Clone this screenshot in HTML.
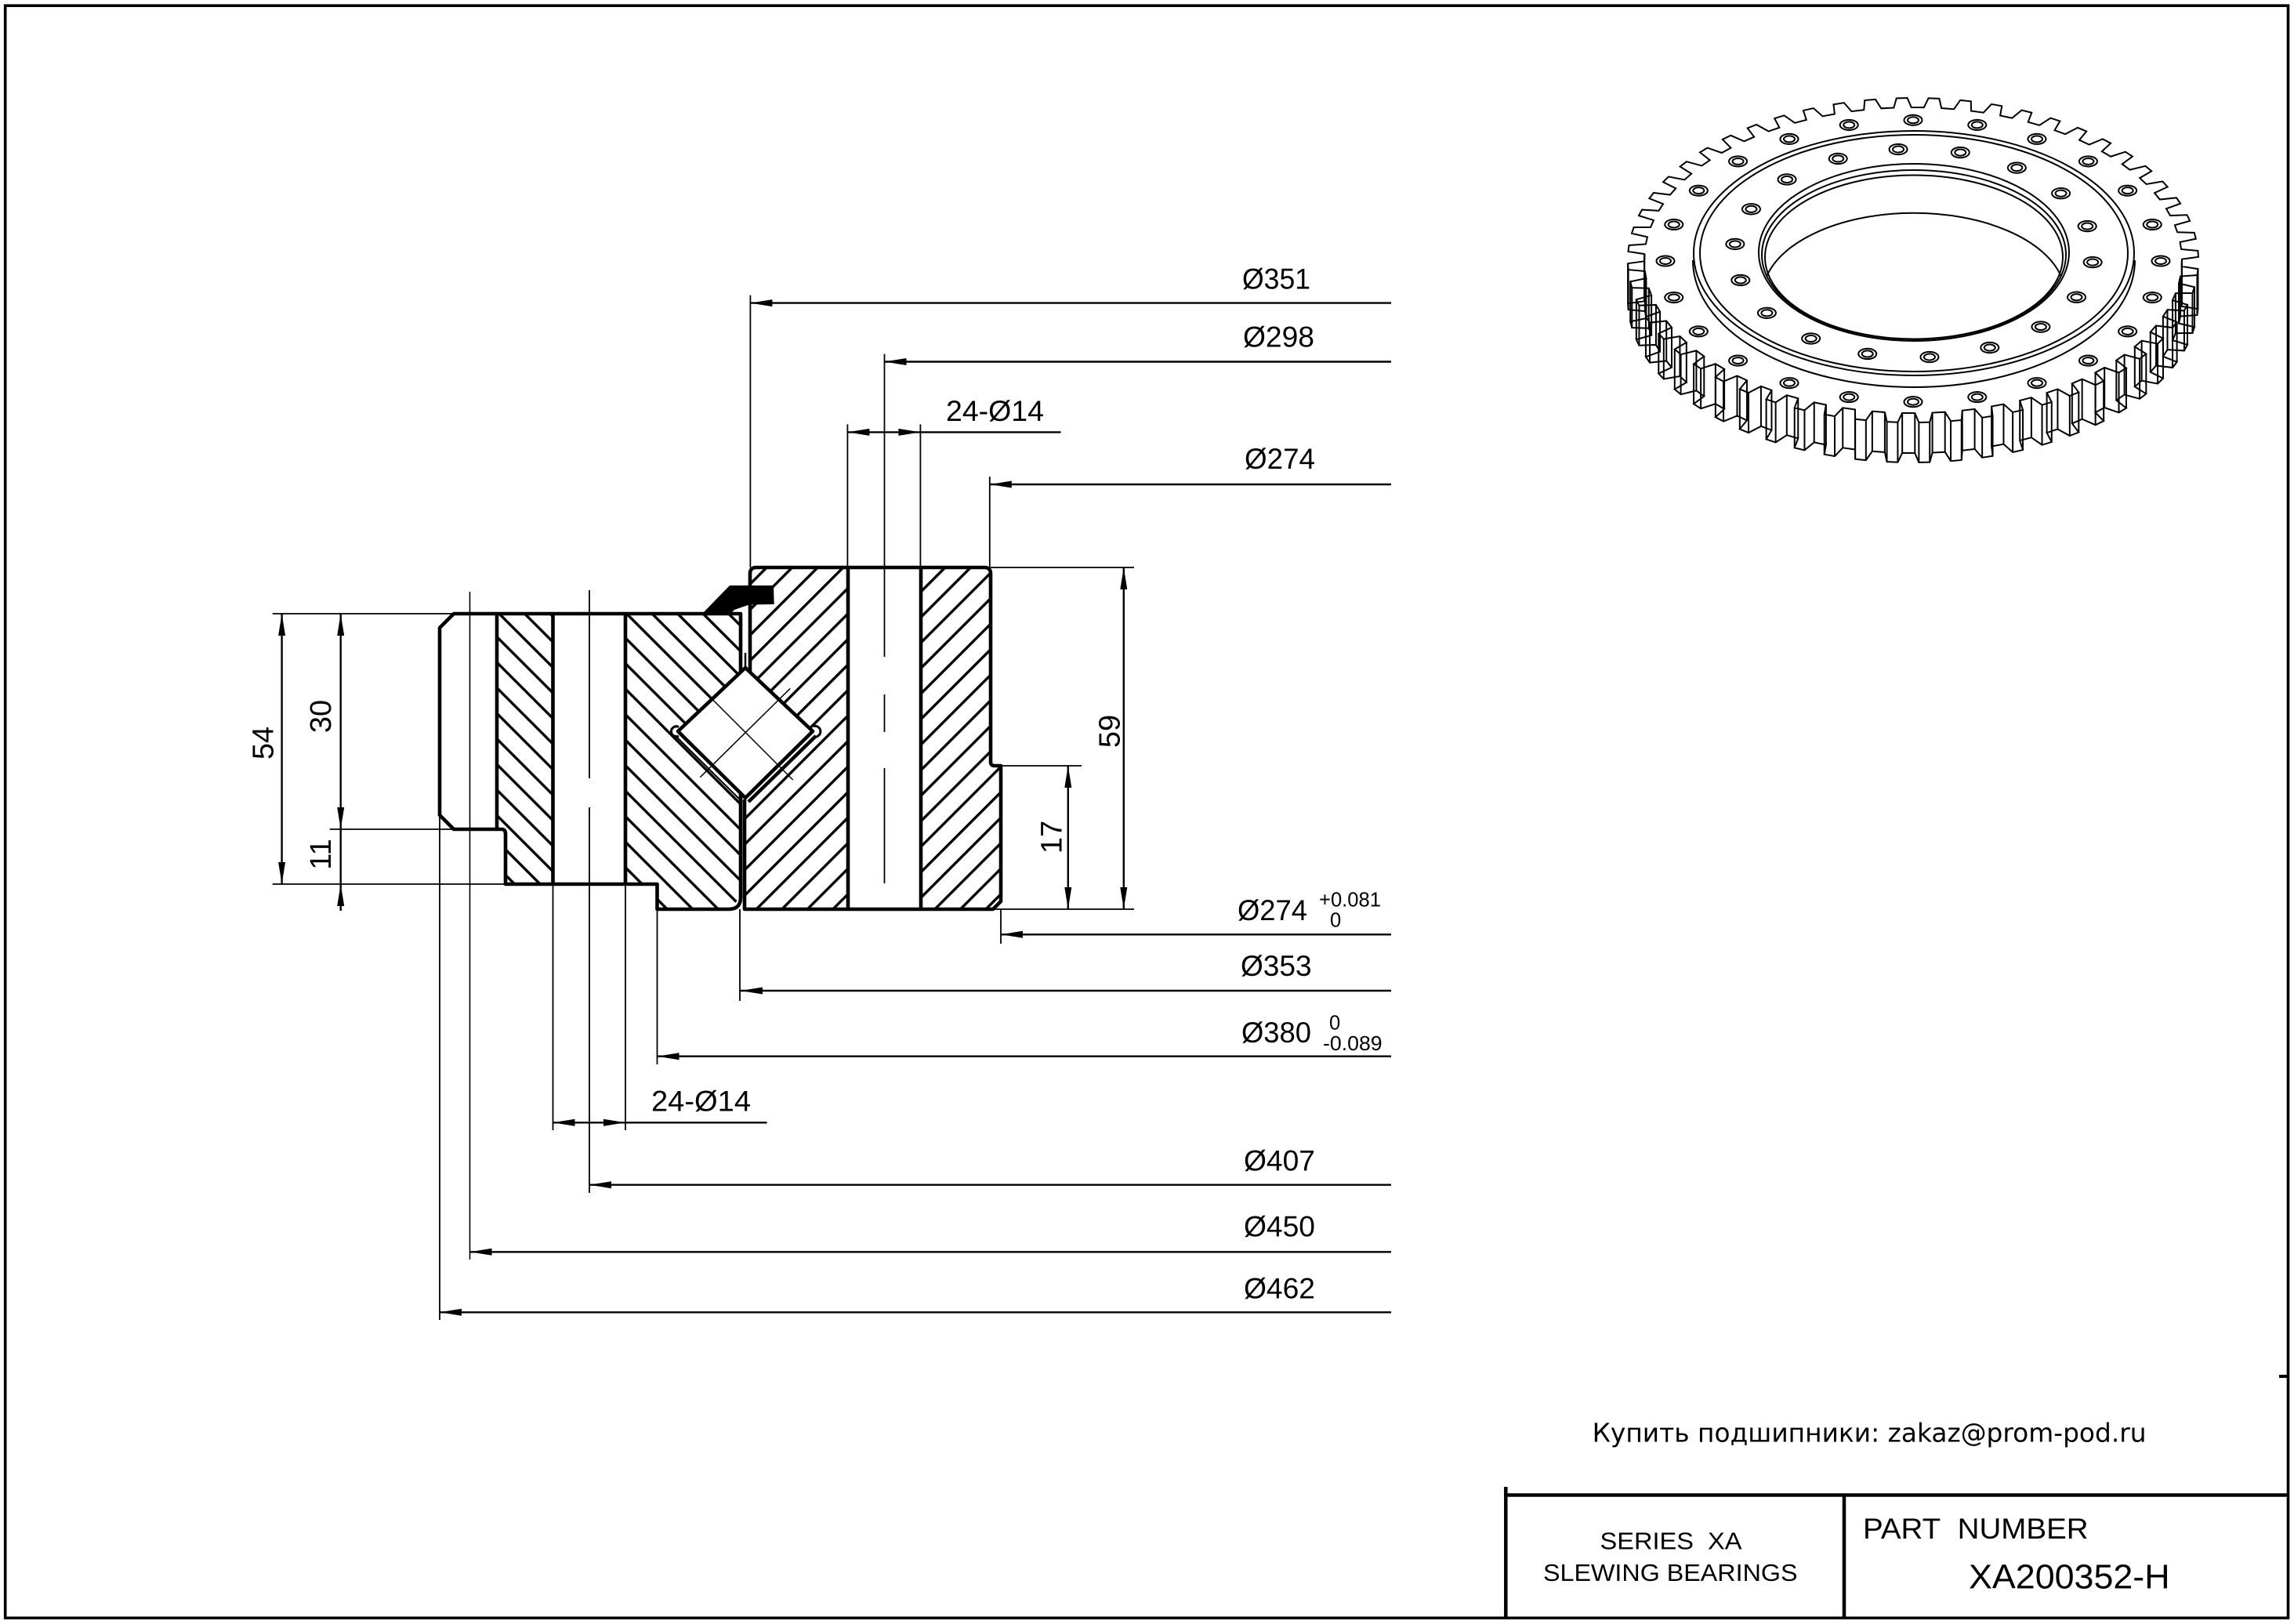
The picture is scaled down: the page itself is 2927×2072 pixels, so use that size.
<!DOCTYPE html>
<html>
<head>
<meta charset="utf-8">
<style>
html,body{margin:0;padding:0;background:#fff;}
svg{display:block;}
.t{font-family:"Liberation Sans",Arial,sans-serif;fill:#000;}
</style>
</head>
<body>
<svg xmlns="http://www.w3.org/2000/svg" xmlns:xlink="http://www.w3.org/1999/xlink" width="2927" height="2072" viewBox="0 0 2927 2072">
<defs>
<pattern id="hb" patternUnits="userSpaceOnUse" width="23" height="40" patternTransform="rotate(-45)"><rect x="10" y="0" width="3.4" height="40" fill="#000"/></pattern>
<pattern id="hf" patternUnits="userSpaceOnUse" width="23" height="40" patternTransform="rotate(45)"><rect x="6" y="0" width="3.4" height="40" fill="#000"/></pattern>
<marker id="vm" markerUnits="userSpaceOnUse" markerWidth="10" markerHeight="60" refX="0" refY="0" orient="0" style="overflow:visible"><path d="M0 0 V51" stroke="#000" stroke-width="2" fill="none"/></marker>
<g id="hole" fill="none" stroke="#000" stroke-width="2"><circle r="11.5" vector-effect="non-scaling-stroke"/><circle r="7" vector-effect="non-scaling-stroke"/></g>
<g id="h3"><use href="#hole" xlink:href="#hole" transform="translate(316 0)"/><use href="#hole" xlink:href="#hole" transform="rotate(15) translate(316 0)"/><use href="#hole" xlink:href="#hole" transform="rotate(30) translate(316 0)"/></g>
<g id="h2"><use href="#hole" xlink:href="#hole" transform="translate(229 0)"/><use href="#hole" xlink:href="#hole" transform="rotate(20) translate(229 0)"/></g>
</defs>
<rect x="0" y="0" width="2927" height="2072" fill="#fff"/>

<!-- frame -->
<rect x="6.7" y="7.2" width="2912.8" height="2057.1" fill="none" stroke="#000" stroke-width="3.6"/>
<line x1="2908" y1="1756" x2="2919" y2="1756" stroke="#000" stroke-width="4"/>

<!-- title block -->
<g stroke="#000" stroke-width="4.5" fill="none">
<line x1="1921.3" y1="1897" x2="1921.3" y2="2064"/>
<line x1="1921.3" y1="1907.5" x2="2919.5" y2="1907.5"/>
<line x1="2353" y1="1907.5" x2="2353" y2="2064"/>
</g>
<text x="2031.6" y="1839.3" font-family="'DejaVu Sans','Liberation Sans',sans-serif" font-size="33" textLength="707" lengthAdjust="spacingAndGlyphs">Купить подшипники: zakaz@prom-pod.ru</text>
<text class="t" x="2041.5" y="1976.4" font-size="31" textLength="181" lengthAdjust="spacingAndGlyphs">SERIES&#160; XA</text>
<text class="t" x="1969" y="2017" font-size="31" textLength="324.5" lengthAdjust="spacingAndGlyphs">SLEWING BEARINGS</text>
<text class="t" x="2377" y="1963" font-size="37" textLength="287.6" lengthAdjust="spacingAndGlyphs">PART&#160; NUMBER</text>
<text class="t" x="2512" y="2026.3" font-size="44" textLength="256.6" lengthAdjust="spacingAndGlyphs">XA200352-H</text>

<!-- hatching -->
<path d="M634 783 L705.5 783 L705.5 1128 L645 1128 L645 1064 L640 1058 L634 1058 Z" fill="url(#hb)"/>
<path d="M798 783 L945 783 L945 857.6 L865 933 L945 1012 L945 1145 L930 1160 L838.5 1160 L838.5 1128 L798 1128 Z" fill="url(#hb)"/>
<path d="M957 724 L1082 724 L1082 1160 L950 1160 L950 1020 L951 1018 L1037 933 L957 857.7 Z" fill="url(#hf)"/>
<path d="M1175 724 L1264 724 L1264 977 L1277 977 L1277 1150 L1267 1160 L1175 1160 Z" fill="url(#hf)"/>

<!-- section outlines -->
<g stroke="#000" stroke-width="4.6" fill="none" stroke-linejoin="round">
<path d="M945 857.6 L945 783 L579 783 L561 801 L561 1040 L579 1058 L640 1058 Q645 1058 645 1064 L645 1128 L838.5 1128 L838.5 1160 L930 1160 Q945 1160 945 1145 L945 1012"/>
<path d="M634 783 L634 1058"/>
<path d="M705.5 783 V1128 M798 783 V1128"/>
<path d="M957 857.7 L957 732 Q957 724 965 724 L1256 724 Q1264 724 1264 732 L1264 972 Q1264 977 1269 977 L1277 977 L1277 1150 L1267 1160 L950 1160 L950 1020"/>
<path d="M1082 724 V1160 M1175 724 V1160"/>
<path d="M951 852 L1037 933 L951 1018 L865 933 Z" fill="#fff"/>
</g>
<g stroke="#000" fill="none">
<path d="M891.7 875 L1011.7 995 M893.3 991.7 L1008.3 878.3" stroke-width="1.5"/>
<path d="M861 938 L947 1023" stroke-width="2"/>
<path d="M955 1023 L1041 939" stroke-width="4.5"/>
<path d="M951 833 V852" stroke-width="2.5"/>
<path d="M866 927.5 A6.5 6.5 0 1 0 866 939" stroke-width="3"/>
<path d="M1038 926.5 A7 7 0 1 1 1038 940" stroke-width="3"/>
</g>
<path d="M896 783 L931 747 L987 747 L987.7 771 L956 771.5 L937 778 L932 783 Z" fill="#000"/>

<!-- center lines and thin extension lines -->
<g stroke="#000" stroke-width="1.8" fill="none">
<path d="M752 753 V993 M752 1030 V1522"/>
<path d="M1128.5 451.6 V838 M1128.5 886 V934 M1128.5 980 V1127"/>
<path d="M599.5 755 V1607" stroke-width="1.6"/>
<path d="M561 1040 V1684"/>
<path d="M705.5 1128 V1442 M798 1128 V1442"/>
<path d="M838.5 1160 V1358"/>
<path d="M944 1160 V1277"/>
<path d="M1277 1160 V1204"/>
<path d="M957.4 376.6 V724"/>
<path d="M1081.4 541.4 V724 M1174.4 541.4 V724"/>
<path d="M1262.8 608 V724"/>
<path d="M347.7 783 H579 M420.7 1058 H579 M347.7 1128 H645"/>
<path d="M1264 724 H1447 M1277 977 H1380 M1266 1160 H1447"/>
</g>

<!-- dimension lines -->
<g stroke="#000" stroke-width="2.4" fill="none">
<path d="M957.4 386.6 H1775 M1128.5 461.5 H1775 M1081.4 551.4 H1353.5 M1262.8 618 H1775"/>
<path d="M1277 1192.3 H1775 M945 1264 H1775 M838.5 1347.7 H1775 M705.5 1432.3 H978.6"/>
<path d="M752 1511.7 H1775 M599.5 1597.3 H1775 M561 1674.3 H1775"/>
<path d="M359.6 783 V1128 M434.7 783 V1162 M1433.8 724 V1160 M1362.8 977 V1160"/>
</g>

<!-- arrowheads -->
<g fill="#000">
<polygon points="957.4,386.6 985.4,382.1 985.4,391.1"/>
<polygon points="1128.5,461.5 1156.5,457 1156.5,466"/>
<polygon points="1081.4,551.4 1109.4,546.9 1109.4,555.9"/>
<polygon points="1174.4,551.4 1146.4,546.9 1146.4,555.9"/>
<polygon points="1262.8,618 1290.8,613.5 1290.8,622.5"/>
<polygon points="1277,1192.3 1305,1187.8 1305,1196.8"/>
<polygon points="945,1264 973,1259.5 973,1268.5"/>
<polygon points="838.5,1347.7 866.5,1343.2 866.5,1352.2"/>
<polygon points="705.5,1432.3 733.5,1427.8 733.5,1436.8"/>
<polygon points="798,1432.3 770,1427.8 770,1436.8"/>
<polygon points="752,1511.7 780,1507.2 780,1516.2"/>
<polygon points="599.5,1597.3 627.5,1592.8 627.5,1601.8"/>
<polygon points="561,1674.3 589,1669.8 589,1678.8"/>
<polygon points="359.6,783 355.1,811 364.1,811"/>
<polygon points="359.6,1128 355.1,1100 364.1,1100"/>
<polygon points="434.7,783 430.2,811 439.2,811"/>
<polygon points="434.7,1058 430.2,1030 439.2,1030"/>
<polygon points="434.7,1128 430.2,1156 439.2,1156"/>
<polygon points="1433.8,724 1429.3,752 1438.3,752"/>
<polygon points="1433.8,1160 1429.3,1132 1438.3,1132"/>
<polygon points="1362.8,977 1358.3,1005 1367.3,1005"/>
<polygon points="1362.8,1160 1358.3,1132 1367.3,1132"/>
</g>

<!-- dimension texts -->
<g class="t" font-size="37">
<text x="1585" y="368.3" textLength="87" lengthAdjust="spacingAndGlyphs">Ø351</text>
<text x="1586" y="442.5" textLength="91" lengthAdjust="spacingAndGlyphs">Ø298</text>
<text x="1207" y="537.1" textLength="125" lengthAdjust="spacingAndGlyphs">24-Ø14</text>
<text x="1588" y="598" textLength="90" lengthAdjust="spacingAndGlyphs">Ø274</text>
<text x="1579" y="1174" textLength="89" lengthAdjust="spacingAndGlyphs">Ø274</text>
<text x="1583" y="1245" textLength="90.6" lengthAdjust="spacingAndGlyphs">Ø353</text>
<text x="1584" y="1330" textLength="89" lengthAdjust="spacingAndGlyphs">Ø380</text>
<text x="831" y="1417.7" textLength="127" lengthAdjust="spacingAndGlyphs">24-Ø14</text>
<text x="1587" y="1493.3" textLength="91" lengthAdjust="spacingAndGlyphs">Ø407</text>
<text x="1587" y="1577.3" textLength="91" lengthAdjust="spacingAndGlyphs">Ø450</text>
<text x="1587" y="1656.7" textLength="91" lengthAdjust="spacingAndGlyphs">Ø462</text>
</g>
<g class="t" font-size="25.5">
<text x="1683" y="1156.7" textLength="79" lengthAdjust="spacingAndGlyphs">+0.081</text>
<text x="1697" y="1182.7">0</text>
<text x="1696" y="1313.3">0</text>
<text x="1688" y="1340" textLength="75.6" lengthAdjust="spacingAndGlyphs">-0.089</text>
</g>
<g class="t" font-size="38" text-anchor="middle">
<text transform="translate(335,948) rotate(-90)" x="0" y="13.5">54</text>
<text transform="translate(408.7,914) rotate(-90)" x="0" y="13.5">30</text>
<text transform="translate(408.7,1090) rotate(-90)" x="0" y="13.5">11</text>
<text transform="translate(1415,933) rotate(-90)" x="0" y="13.5">59</text>
<text transform="translate(1341,1068) rotate(-90)" x="0" y="13.5">17</text>
</g>

<!-- 3D gear view: rings and bore -->
<g fill="none" stroke="#000" stroke-width="2">
<path d="M2160 332 A282 162 0 0 0 2724 332"/>
<ellipse cx="2442" cy="323" rx="281" ry="156"/>
<ellipse cx="2442" cy="323" rx="273" ry="151"/>
<ellipse cx="2442" cy="322" rx="198" ry="113"/>
<ellipse cx="2442" cy="325" rx="194" ry="108"/>
<ellipse cx="2442" cy="328" rx="190" ry="104.5"/>
<path d="M2254 353 A193 105 0 0 1 2630 353"/>
</g>

<!-- gear teeth: front half of top face with vertical edges -->
<g fill="none" stroke="#000" stroke-width="2" marker-start="url(#vm)" marker-mid="url(#vm)" marker-end="url(#vm)">
<path id="fr" d="M2783.99 330.69 L2783.72 339.88 L2804.47 343.14 L2803.46 351.02 L2782.10 352.54 L2780.02 361.65 L2799.99 366.22 L2797.43 373.98 L2775.91 374.13 L2772.05 383.05 L2791.00 388.86 L2786.93 396.41 L2765.51 395.18 L2759.91 403.81 L2777.60 410.79 L2772.07 418.04 L2751.03 415.45 L2743.77 423.66 L2759.97 431.73 L2753.05 438.57 L2732.65 434.67 L2723.82 442.37 L2738.33 451.41 L2730.11 457.78 L2710.60 452.59 L2700.31 459.68 L2712.96 469.59 L2703.53 475.39 L2685.17 469.00 L2673.54 475.39 L2684.16 486.04 L2673.65 491.21 L2656.66 483.69 L2643.85 489.30 L2652.30 500.56 L2640.84 505.02 L2625.44 496.46 L2611.61 501.22 L2617.79 512.95 L2605.52 516.66 L2591.90 507.17 L2577.22 511.02 L2581.05 523.07 L2568.13 525.97 L2556.46 515.68 L2541.12 518.57 L2542.55 530.79 L2529.15 532.85 L2519.58 521.88 L2503.75 523.77 L2502.78 536.01 L2489.05 537.20 L2481.70 525.69 L2465.61 526.56 L2462.23 538.66 L2448.35 538.97 L2443.31 527.06 L2427.15 526.90 L2421.41 538.71 L2407.55 538.13 L2404.89 525.98 L2388.86 524.80 L2380.83 536.16 L2367.18 534.71 L2366.93 522.46 L2351.23 520.26 L2341.02 531.05 L2327.74 528.73 L2329.90 516.55 L2314.73 513.37 L2302.46 523.43 L2289.72 520.28 L2294.26 508.31 L2279.82 504.18 L2265.64 513.40 L2253.60 509.47 L2260.47 497.86 L2246.93 492.84 L2231.03 501.10 L2219.84 496.42 L2228.95 485.32 L2216.49 479.47 L2199.06 486.66 L2188.87 481.30 L2200.10 470.86 L2188.86 464.25 L2170.13 470.28 L2161.06 464.31 L2174.28 454.64 L2164.41 447.36 L2144.61 452.17 L2136.77 445.65 L2151.81 436.89 L2143.44 429.02 L2122.81 432.54 L2116.30 425.56 L2132.98 417.82 L2126.21 409.47 L2105.02 411.65 L2099.93 404.30 L2118.02 397.66 L2112.94 388.94 L2091.46 389.75 L2087.84 382.13 L2107.12 376.69 L2103.79 367.69 L2082.28 367.13 L2080.19 359.32 L2100.42 355.14 L2098.88 345.99 L2077.62 344.07 L2077.08 336.18 L2098.01 333.31 L2098.28 324.12"/>
</g>
<!-- back half of top face and front half of bottom face -->
<g fill="none" stroke="#000" stroke-width="2">
<use href="#fr" xlink:href="#fr" transform="rotate(180 2441 332)"/>
<use href="#fr" xlink:href="#fr" transform="translate(0 51)"/>
</g>

<!-- outer bolt holes (24) -->
<g transform="translate(2441 333) scale(1 0.5687)">
<use href="#h3" xlink:href="#h3"/>
<use href="#h3" xlink:href="#h3" transform="rotate(45)"/>
<use href="#h3" xlink:href="#h3" transform="rotate(90)"/>
<use href="#h3" xlink:href="#h3" transform="rotate(135)"/>
<use href="#h3" xlink:href="#h3" transform="rotate(180)"/>
<use href="#h3" xlink:href="#h3" transform="rotate(225)"/>
<use href="#h3" xlink:href="#h3" transform="rotate(270)"/>
<use href="#h3" xlink:href="#h3" transform="rotate(315)"/>
</g>
<!-- inner bolt holes (18) -->
<g transform="translate(2442 323) scale(1 0.5808)">
<use href="#h2" xlink:href="#h2" transform="rotate(5)"/>
<use href="#h2" xlink:href="#h2" transform="rotate(45)"/>
<use href="#h2" xlink:href="#h2" transform="rotate(85)"/>
<use href="#h2" xlink:href="#h2" transform="rotate(125)"/>
<use href="#h2" xlink:href="#h2" transform="rotate(165)"/>
<use href="#h2" xlink:href="#h2" transform="rotate(205)"/>
<use href="#h2" xlink:href="#h2" transform="rotate(245)"/>
<use href="#h2" xlink:href="#h2" transform="rotate(285)"/>
<use href="#h2" xlink:href="#h2" transform="rotate(325)"/>
</g>
</svg>
</body>
</html>
